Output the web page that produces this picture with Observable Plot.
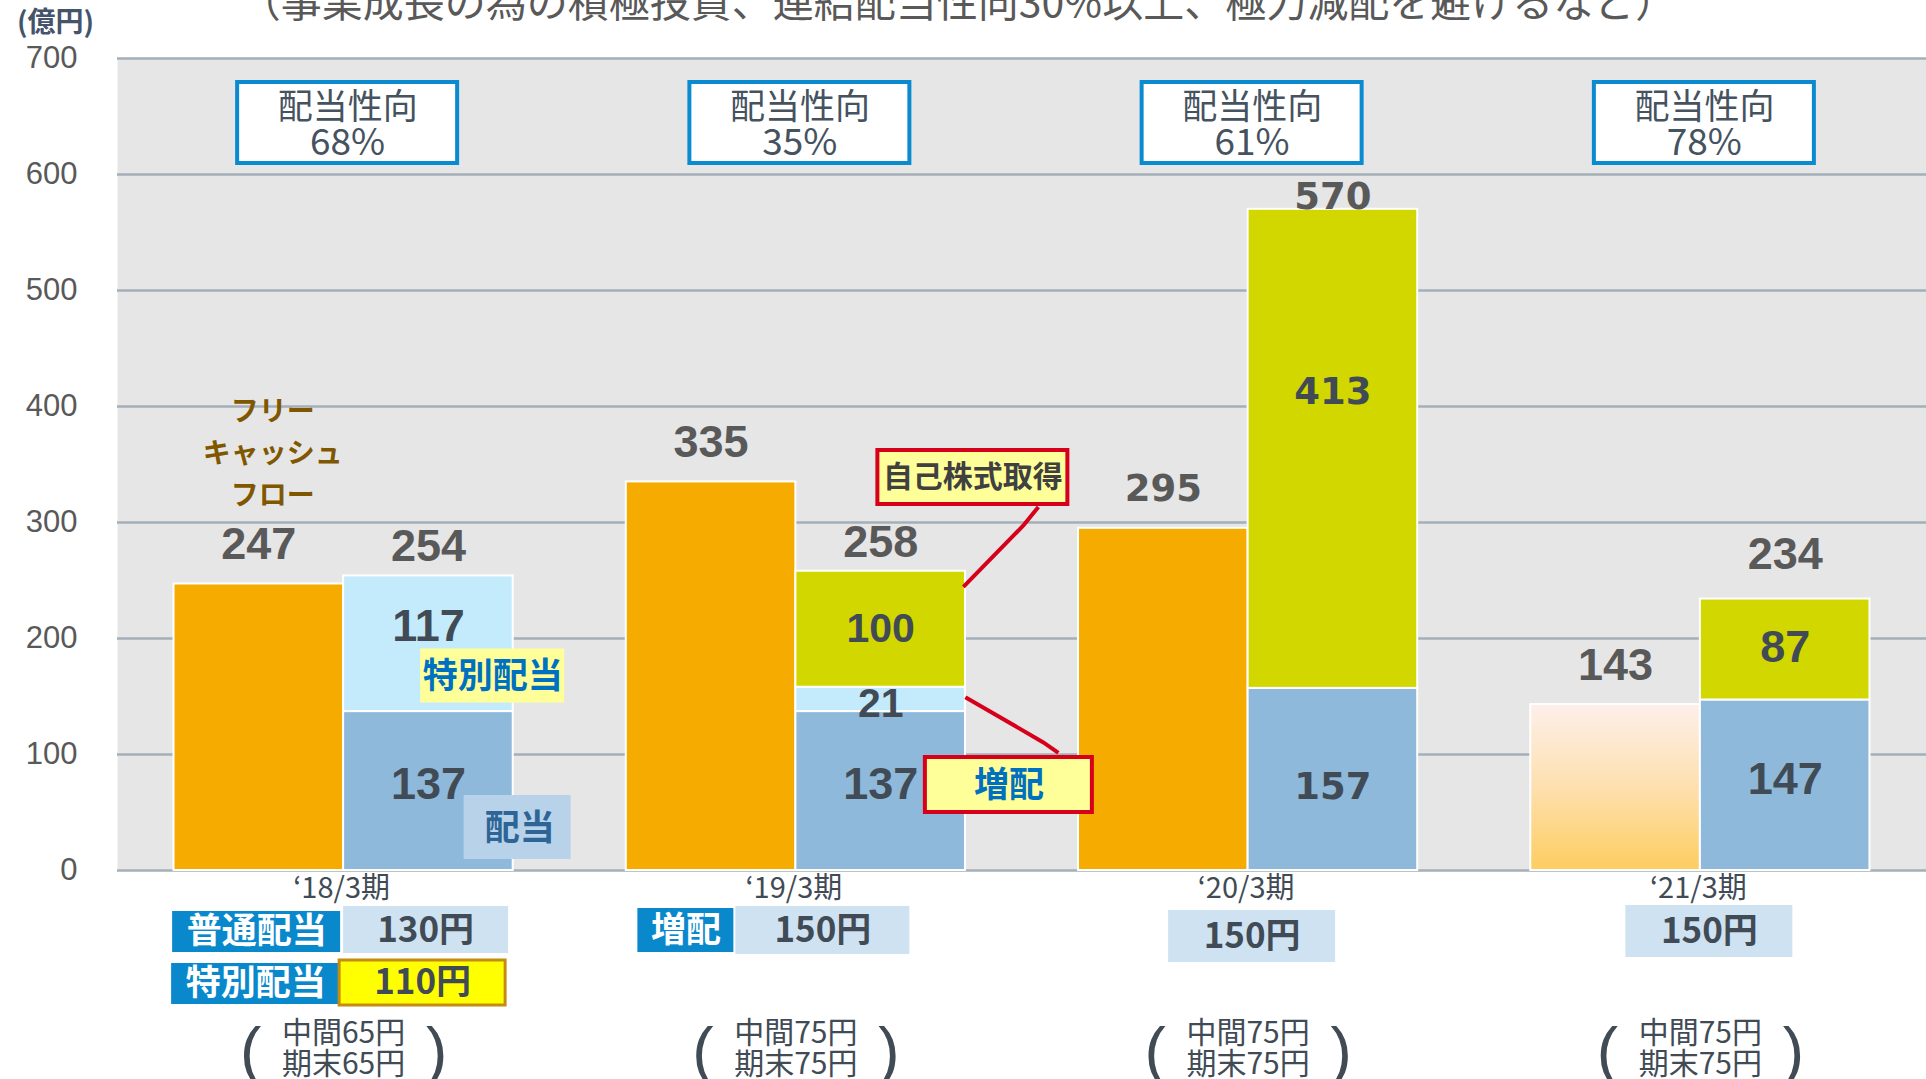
<!DOCTYPE html>
<html><head><meta charset="utf-8">
<script src="https://cdn.jsdelivr.net/npm/d3@7"></script>
<script src="https://cdn.jsdelivr.net/npm/@observablehq/plot@0.6"></script>
<style>html,body{margin:0;padding:0;background:#fff;overflow:hidden;} svg{display:block}</style>
</head><body><div id="chart"></div>
<script>
// ---- data ----
const periods = ["‘18/3期", "‘19/3期", "‘20/3期", "‘21/3期"];
const freeCashFlow = [247, 335, 295, 143];
const dividend = [137, 137, 157, 147];
const extraDividend = [117, 21, 0, 0];   // 特別配当 / 増配
const buyback = [0, 100, 413, 87];       // 自己株式取得
const forecast = [false, false, false, true];
const payoutRatio = [68, 35, 61, 78];
const annualDps = [130, 150, 150, 150];
const specialDps = [110, null, null, null];
const interimDps = [65, 75, 75, 75];
const yearEndDps = [65, 75, 75, 75];
const yTicks = [0, 100, 200, 300, 400, 500, 600, 700];
const kinds = ["配当", "特別配当・増配", "自己株式取得"];
const kindColors = ["#8fb9da", "#c4ebfc", "#d2d700"];
const subtitle = "（事業成長の為の積極投資、連結配当性向30%以上、極力減配を避けるなど）";

// ---- layout ----
const W = 1926, H = 1079, ML = 117, MT = 58, MB = 209;
const FT = MT, FB = H - MB;
const STEP = (W - ML) / 4;
const BW = STEP * 0.75;
const NUM = "'Liberation Sans', Arial, sans-serif";
const WIDE = "'DejaVu Sans', Verdana, sans-serif";
const JP = "'Noto Sans CJK JP', 'Noto Sans', sans-serif";
const GRAY = "#595959", DARK = "#414b56", BLUE = "#0a88cc";

const rows = periods.map((period, i) => ({
  period, i, fcf: freeCashFlow[i], forecast: forecast[i],
  total: dividend[i] + extraDividend[i] + buyback[i],
  payout: payoutRatio[i], dps: annualDps[i], special: specialDps[i],
  interim: interimDps[i], yearEnd: yearEndDps[i]
}));
const segs = periods.flatMap((period, i) =>
  [[kinds[0], dividend[i]], [kinds[1], extraDividend[i]], [kinds[2], buyback[i]]]
    .filter(([, v]) => v > 0)
    .map(([kind, value]) => ({period, i, kind, value})));

const numFont = {fontFamily: NUM, fontWeight: "bold", fontSize: 45};
const wideFont = {fontFamily: WIDE, fontWeight: "bold", fontSize: 37};
const mid = {lineAnchor: "middle", textAnchor: "middle"};

function box(i, cx, cy, w, h, style) {
  return Plot.cell([periods[i]], {
    x: d => d,
    insetLeft: BW / 2 + cx - w / 2, insetRight: BW / 2 - cx - w / 2,
    insetTop: cy - h / 2 - FT, insetBottom: FB - cy - h / 2,
    ...style
  });
}
function note(i, text, cx, cy, style) {
  return Plot.text([text], {x: () => periods[i], text: d => d, frameAnchor: "top", lineAnchor: "middle", dx: cx, dy: cy - FT, ...style});
}
const segLabel = (test, font, dy) =>
  Plot.text(segs, Plot.filter(test, Plot.stackY({x: "period", y: "value", text: "value", dx: BW / 4, dy, fill: DARK, ...font})));

function gradientDefs() {
  const defs = d3.create("svg:defs");
  const g = defs.append("linearGradient").attr("id", "fcfPlan").attr("x1", 0).attr("y1", 0).attr("x2", 0).attr("y2", 1);
  g.append("stop").attr("offset", "0%").attr("stop-color", "#fdefeb");
  g.append("stop").attr("offset", "50%").attr("stop-color", "#fee0af");
  g.append("stop").attr("offset", "100%").attr("stop-color", "#fdcd60");
  return defs.node();
}
function leaders(index, scales) {
  const x = scales.x, y = scales.y;
  const bw = x.bandwidth ? x.bandwidth() : BW;
  const cx = x(periods[1]) + bw / 2;
  const line = d3.line();
  const g = d3.create("svg:g").attr("fill", "none").attr("stroke", "#d7001b").attr("stroke-width", 4);
  g.append("path").attr("d", line([[cx + 243, y(313)], [cx + 228, y(297)], [cx + 168, y(244)]]));
  g.append("path").attr("d", line([[cx + 170, y(149)], [cx + 248, y(110)], [cx + 263, y(101)]]));
  return g.node();
}

const calloutStyle = {fill: "#ffff99", stroke: "#d7001b", strokeWidth: 4};
const tagText = {fill: "white", fontWeight: "bold", fontSize: 35, fontFamily: JP};
const amtText = {fill: DARK, fontWeight: "bold", fontSize: 35, fontFamily: JP};
const payoutText = {fontSize: 35, fill: "#455260", fontFamily: JP};

const chart = Plot.plot({
  width: W, height: H,
  marginLeft: ML, marginRight: 0, marginTop: MT, marginBottom: MB,
  style: {fontFamily: JP, background: "white", overflow: "hidden"},
  x: {domain: periods, paddingInner: 0.25, paddingOuter: 0.125, round: false, axis: null},
  y: {domain: [0, 700], axis: null},
  color: {domain: kinds, range: kindColors},
  marks: [
    gradientDefs,
    Plot.frame({fill: "#e6e6e6", stroke: "none"}),
    Plot.ruleY(yTicks, {stroke: "#a5afb8", strokeWidth: 2.5}),
    // bars
    Plot.barY(rows, {filter: d => !d.forecast, x: "period", y: "fcf", fill: "#f5ab00", insetRight: BW / 2, stroke: "white", strokeWidth: 2}),
    Plot.barY(rows, {filter: d => d.forecast, x: "period", y: "fcf", fill: "url(#fcfPlan)", insetRight: BW / 2, stroke: "white", strokeWidth: 2}),
    Plot.barY(segs, Plot.stackY({x: "period", y: "value", fill: "kind", insetLeft: BW / 2, stroke: "white", strokeWidth: 2})),
    // FCF labels
    Plot.text(rows, {filter: d => d.i !== 2, x: "period", y: "fcf", text: "fcf", dx: -BW / 4, dy: -39, fill: GRAY, ...numFont}),
    Plot.text(rows, {filter: d => d.i === 2, x: "period", y: "fcf", text: "fcf", dx: -BW / 4, dy: -39, fill: GRAY, ...wideFont}),
    // totals
    Plot.text(rows, {filter: d => d.i < 2, x: "period", y: "total", text: "total", dx: BW / 4, dy: -29, fill: GRAY, ...numFont}),
    Plot.text(rows, {filter: d => d.i === 3, x: "period", y: "total", text: "total", dx: BW / 4, dy: -44, fill: GRAY, ...numFont}),
    Plot.text(rows, {filter: d => d.i === 2, x: "period", y: "total", text: "total", dx: BW / 4, dy: -12, fill: GRAY, ...wideFont}),
    // segment labels
    segLabel(d => d.kind === kinds[0] && d.i !== 2, numFont, -6),
    segLabel(d => d.kind === kinds[0] && d.i === 2, wideFont, 8),
    segLabel(d => d.kind === kinds[1] && d.i === 0, numFont, -17),
    segLabel(d => d.kind === kinds[1] && d.i === 1, {...numFont, fontSize: 41}, 4),
    segLabel(d => d.kind === kinds[2] && d.i === 1, {...numFont, fontSize: 41}, 0),
    segLabel(d => d.kind === kinds[2] && d.i === 2, wideFont, -57),
    segLabel(d => d.kind === kinds[2] && d.i === 3, numFont, -2),
    // y tick labels
    Plot.text(yTicks, {y: d => d, text: d => d, frameAnchor: "left", dx: -40, lineAnchor: "middle", textAnchor: "end", fontSize: 31, fill: GRAY, fontFamily: NUM}),
    // unit + subtitle
    Plot.text(["(億円)"], {text: d => d, frameAnchor: "top-left", dx: -62, dy: -35, fontSize: 28, fontWeight: "bold", fill: "#44546a", fontFamily: JP, ...mid}),
    Plot.text([subtitle], {text: d => d, frameAnchor: "top", dx: -64, dy: -55, fontSize: 41, fill: GRAY, fontFamily: JP, ...mid}),
    // payout ratio boxes
    ...periods.map((p, i) => box(i, 4, 122.5, 220, 81, {fill: "white", stroke: "#0b8bcf", strokeWidth: 4})),
    Plot.text(rows, {x: "period", text: () => "配当性向", frameAnchor: "top", dx: 4, dy: 107 - FT, ...payoutText, ...mid}),
    Plot.text(rows, {x: "period", text: d => `${d.payout}%`, frameAnchor: "top", dx: 4, dy: 143 - FT, ...payoutText, fontSize: 37, ...mid}),
    // FCF annotation
    Plot.text(rows, {filter: d => d.i === 0, x: "period", y: "fcf", text: () => "フリー\nキャッシュ\nフロー", dx: -71, dy: -134, lineHeight: 1.5, fontSize: 28, fontWeight: "bold", fill: "#7f5700", fontFamily: JP}),
    // in-plot labels
    box(0, 149, 675.5, 144, 54, {fill: "#ffff99"}),
    note(0, "特別配当", 149, 676, {fill: "#0070c0", fontWeight: "bold", fontSize: 35, fontFamily: JP}),
    box(0, 174, 827, 107, 64, {fill: "#b8d3e9"}),
    note(0, "配当", 176, 828, {fill: "#2e6597", fontWeight: "bold", fontSize: 35, fontFamily: JP}),
    leaders,
    box(1, 177, 477, 190, 54, calloutStyle),
    note(1, "自己株式取得", 177, 477, {fill: "#404040", fontWeight: "bold", fontSize: 30, fontFamily: JP}),
    box(1, 213, 784.5, 167, 55, calloutStyle),
    note(1, "増配", 213, 785, {fill: "#0070c0", fontWeight: "bold", fontSize: 35, fontFamily: JP}),
    // x labels
    Plot.text(rows, {x: "period", text: "period", frameAnchor: "bottom", dx: -2, dy: 18, fontSize: 29, fill: DARK, fontFamily: JP, ...mid}),
    // dividend per share row 1
    box(0, -87, 931.5, 168, 41, {fill: BLUE}),
    note(0, "普通配当", -87, 931, tagText),
    box(0, 82.5, 929.5, 165, 47, {fill: "#cfe2f1"}),
    note(0, `${annualDps[0]}円`, 82, 930, amtText),
    box(1, -110, 930, 96, 44, {fill: BLUE}),
    note(1, "増配", -110, 930, tagText),
    box(1, 27, 930, 174, 48, {fill: "#cfe2f1"}),
    note(1, `${annualDps[1]}円`, 27, 930, amtText),
    box(2, 4, 936, 167, 52, {fill: "#cfe2f1"}),
    note(2, `${annualDps[2]}円`, 4, 936, amtText),
    box(3, 9, 931, 167, 52, {fill: "#cfe2f1"}),
    note(3, `${annualDps[3]}円`, 9, 931, amtText),
    // row 2 special dividend
    box(0, -88, 983.5, 168, 41, {fill: BLUE}),
    note(0, "特別配当", -88, 983, tagText),
    box(0, 79, 982.5, 166, 45, {fill: "#ffff00", stroke: "#c48c10", strokeWidth: 3}),
    note(0, `${specialDps[0]}円`, 79, 982, amtText),
    // row 3 interim / year-end
    Plot.text(rows, {x: "period", text: d => `中間${d.interim}円`, frameAnchor: "bottom", dy: 1033 - FB, fontSize: 30, fill: DARK, fontFamily: JP, ...mid}),
    Plot.text(rows, {x: "period", text: d => `期末${d.yearEnd}円`, frameAnchor: "bottom", dy: 1064 - FB, fontSize: 30, fill: DARK, fontFamily: JP, ...mid}),
    Plot.text(rows, {x: "period", text: () => "(", frameAnchor: "bottom", dx: -93, dy: 1052 - FB, fontSize: 64, fill: DARK, fontFamily: NUM, ...mid}),
    Plot.text(rows, {x: "period", text: () => ")", frameAnchor: "bottom", dx: 93, dy: 1052 - FB, fontSize: 64, fill: DARK, fontFamily: NUM, ...mid})
  ]
});
document.getElementById("chart").appendChild(chart);
</script>
</body></html>
